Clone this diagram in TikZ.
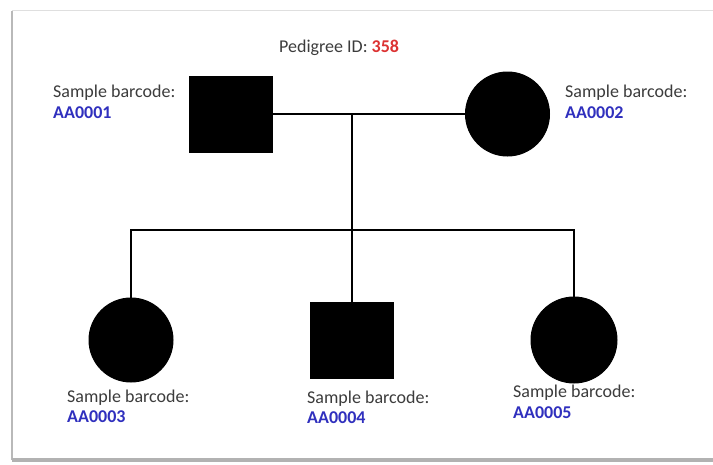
\documentclass[tikz,border=0pt]{standalone}
\usepackage{fontspec}
\setmainfont{Carlito}
\definecolor{txtgray}{RGB}{60,60,60}
\definecolor{bcblue}{RGB}{48,48,190}
\definecolor{idred}{RGB}{220,50,50}
\begin{document}
\begin{tikzpicture}[x=1pt,y=-1pt,
  person/.style={fill=black,draw=black,line width=1pt,inner sep=0pt},
  male/.style={person,rectangle,minimum width=83pt,minimum height=76pt},
  female/.style={person,circle,minimum size=84pt},
  lbl/.style={anchor=base west,inner sep=0pt,text=txtgray,font=\fontsize{18}{21}\selectfont},
  bc/.style={anchor=base west,inner sep=0pt,text=bcblue,font=\fontsize{18}{21}\selectfont\bfseries},
  link/.style={line width=2pt,black}]
\useasboundingbox (0,0) rectangle (713,464);
\fill[white] (0,0) rectangle (713,464);
% frame with shadow
\draw[gray!25,line width=1pt] (12,10.5) -- (720,10.5);
\draw[gray!55,line width=2.5pt] (12,11) -- (12,460);
\draw[gray!60,line width=3.5pt] (12,460) -- (720,460);
% title
\node[lbl] (title) at (279,52) {Pedigree ID: \textcolor{idred}{\bfseries 358}};
% persons
\node[male] (f) at (230.5,114) {};
\node[female] (m) at (507.5,114) {};
\node[female] (c1) at (131,340) {};
\node[male] (c2) at (352,340) {};
\node[female,minimum size=86pt] (c3) at (574,340) {};
\coordinate (mid) at (352,114);
\coordinate (sib) at (352,230);
% connectors
\draw[link] (f.east) -- (m.west);
\draw[link] (mid) -- (sib);
\draw[link] (c1.north) -- (c1.north |- sib) -- (c3.north |- sib) -- (c3.north);
\draw[link] (sib) -- (c2.north);
% labels
\node[lbl] (l1) at (53,97) {Sample barcode:};
\node[bc] (b1) at (53,118) {AA0001};
\node[lbl] (l2) at (565,97) {Sample barcode:};
\node[bc] (b2) at (565,118) {AA0002};
\node[lbl] (l3) at (67,402) {Sample barcode:};
\node[bc] (b3) at (67,422) {AA0003};
\node[lbl] (l4) at (307,403) {Sample barcode:};
\node[bc] (b4) at (307,423) {AA0004};
\node[lbl] (l5) at (513,397) {Sample barcode:};
\node[bc] (b5) at (513,418) {AA0005};
\end{tikzpicture}
\end{document}
